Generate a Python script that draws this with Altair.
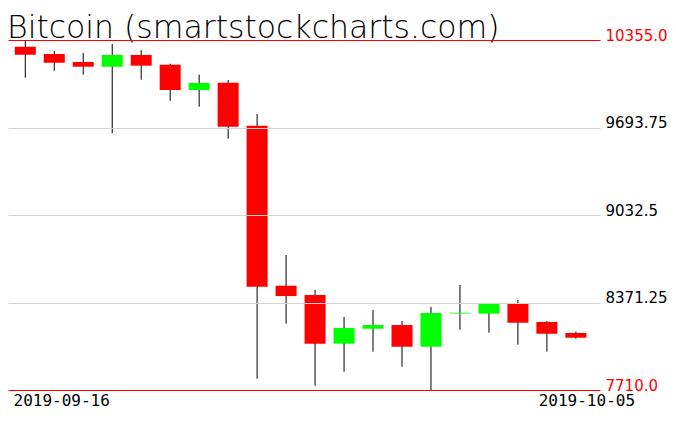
import altair as alt
import pandas as pd

dates = ["2019-09-16", "2019-09-17", "2019-09-18", "2019-09-19", "2019-09-20",
         "2019-09-21", "2019-09-22", "2019-09-23", "2019-09-24", "2019-09-25",
         "2019-09-26", "2019-09-27", "2019-09-28", "2019-09-29", "2019-09-30",
         "2019-10-01", "2019-10-02", "2019-10-03", "2019-10-04", "2019-10-05"]
opens = [10304, 10249, 10189, 10153, 10242, 10168, 9977, 10032, 9707, 8498,
         8428, 8060, 8173, 8201, 8037, 8288, 8287, 8360, 8224, 8141]
highs = [10355, 10272, 10257, 10325, 10279, 10176, 10093, 10053, 9796, 8730,
         8466, 8262, 8315, 8231, 8337, 8503, 8367, 8390, 8231, 8151]
lows = [10070, 10123, 10093, 9650, 10055, 9896, 9851, 9609, 7795, 8211,
        7742, 7848, 8000, 7886, 7710, 8166, 8143, 8052, 8000, 8098]
closes = [10244, 10183, 10153, 10242, 10161, 9977, 10030, 9700, 8491, 8420,
          8060, 8179, 8201, 8037, 8292, 8294, 8360, 8219, 8135, 8105]
y_ticks = [7710, 8371.25, 9032.5, 9693.75, 10355]
title_text = "Bitcoin (smartstockcharts.com)"

df = pd.DataFrame({"i": list(range(len(dates))), "date": dates, "open": opens,
                   "high": highs, "low": lows, "close": closes})
df["dir"] = ["up" if c >= o else "down" for o, c in zip(opens, closes)]

x_min, x_max = -0.424, 19.66
x_enc = alt.X(
    "i:Q",
    scale=alt.Scale(domain=[x_min, x_max], nice=False, zero=False),
    axis=alt.Axis(
        values=[x_min, 17.7],
        labelExpr=f"datum.value < 0 ? '{dates[0]}' : '{dates[-1]}'",
        labelAlign="left", labelBaseline="top", labelPadding=2,
        labelFlush=False, labelOverlap=False,
        ticks=False, domain=False, grid=False, title=None,
        labelFont="DejaVu Sans Mono", labelFontSize=16, labelColor="black",
    ),
)

edge_test = f"datum.value <= {y_ticks[0]} || datum.value >= {y_ticks[-1]}"
y_axis = alt.Axis(
    orient="right", values=y_ticks,
    labelExpr="datum.value % 1 == 0 ? format(datum.value, '.1f') : toString(datum.value)",
    labelColor=alt.condition(edge_test, alt.value("#ff0000"), alt.value("black")),
    gridColor=alt.condition(edge_test, alt.value("#ff0000"), alt.value("#d3d3d3")),
    gridWidth=1, grid=True,
    ticks=False, domain=False, title=None, labelPadding=5,
    labelBaseline="alphabetic", labelFont="DejaVu Sans", labelFontSize=15,
    labelFontWeight="normal", zindex=1, labelFlush=False, labelOverlap=False,
)
y_scale = alt.Scale(domain=[y_ticks[0], y_ticks[-1]], nice=False, zero=False)

base = alt.Chart(df).encode(x=x_enc)

wicks = base.mark_rule(color="black", strokeWidth=1).encode(
    y=alt.Y("low:Q", scale=y_scale, axis=y_axis),
    y2="high:Q",
)
bodies = base.mark_bar(size=21).encode(
    y=alt.Y("open:Q", scale=y_scale, axis=y_axis),
    y2="close:Q",
    color=alt.Color("dir:N", scale=alt.Scale(domain=["up", "down"], range=["#00ff00", "#ff0000"]), legend=None),
)

chart = alt.layer(wicks, bodies).properties(
    width=592, height=350,
    autosize="none",
    padding={"left": 0, "top": 32, "right": 68, "bottom": 25},
    title=alt.Title(title_text, anchor="start", frame="group", fontSize=31.5,
                    font="DejaVu Sans", fontWeight=200, color="black", offset=2,
                    dy=18, dx=-1),
    background="white",
).configure_view(stroke=None)

chart.save("out.html", embed_options={"renderer": "svg", "actions": False})
